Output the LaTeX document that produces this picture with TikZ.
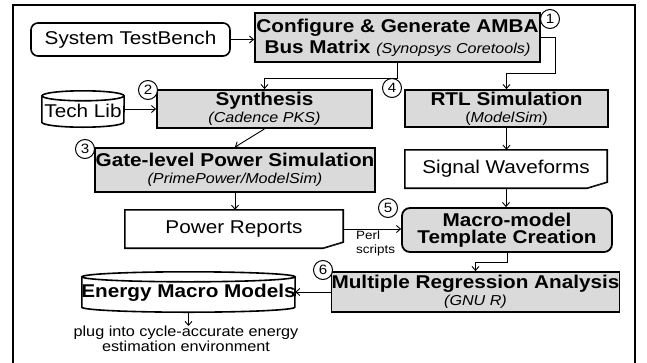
\documentclass[tikz,border=0pt]{standalone}
\usepackage{fontspec}
\setmainfont{Liberation Sans}[FakeStretch=1.12]
\usetikzlibrary{arrows.meta,calc}
\definecolor{boxgray}{RGB}{218,218,218}
\newcommand\mainf{\fontsize{18.5}{17}\selectfont}
\newcommand\itf{\fontsize{14.4}{17}\selectfont\itshape}
\newcommand\subf{\fontsize{14.4}{17}\selectfont}
\newcommand\notef{\fontsize{14.5}{13}\selectfont}
\newcommand\perlf{\fontsize{12}{14}\selectfont}
\tikzset{
  stage/.style={draw, line width=1.8pt, fill=boxgray, inner sep=0pt, align=center, font=\mainf},
  plainbox/.style={draw, line width=1.6pt, fill=white, inner sep=0pt, align=center, font=\mainf},
  docbox/.style={inner sep=0pt, align=center, font=\mainf},
  docline/.style={line width=1.6pt, line join=miter},
  cylline/.style={line width=1.6pt, fill=white},
  num/.style={circle, draw, line width=1pt, fill=white, minimum size=19pt, inner sep=0pt, font=\fontsize{13.5}{13}\selectfont},
  arr/.style={line width=0.9pt, -{Straight Barb[length=4pt,width=7pt]}},
}
\begin{document}
\begin{tikzpicture}[x=1pt,y=-1pt]
\useasboundingbox (0,0) rectangle (647,362);
% outer frame, open at the bottom
\draw[line width=2pt] (13,363) -- (13,5) -- (635,5) -- (635,363);

% stages
\node[plainbox, rounded corners=7pt, minimum width=199pt, minimum height=33pt] (tb) at (130.5,39.5) {System TestBench};
\node[stage, minimum width=285pt, minimum height=49pt] (cfg) at (397.5,37.5)
  {\textbf{Configure \& Generate AMBA}\\[3pt]\textbf{Bus Matrix} {\itf (Synopsys Coretools)}};
\node[stage, minimum width=215pt, minimum height=38pt] (syn) at (264.5,109)
  {\textbf{Synthesis}\\{\itf (Cadence PKS)}};
\node[stage, minimum width=203pt, minimum height=37pt] (rtl) at (506.5,108.5)
  {\textbf{RTL Simulation}\\{\subf(\textit{ModelSim})}};
\node[stage, minimum width=280pt, minimum height=44pt] (gate) at (235,170)
  {\textbf{Gate-level Power Simulation}\\{\itf (PrimePower/ModelSim)}};
\node[stage, rounded corners=8pt, minimum width=210pt, minimum height=44pt] (macro) at (507,230)
  {\textbf{Macro-model}\\\textbf{Template Creation}};
\node[stage, minimum width=285pt, minimum height=40pt] (mra) at (475.5,292)
  {\textbf{Multiple Regression Analysis}\\{\itf (GNU R)}};

% documents with a curled corner
\node[docbox, minimum width=218pt, minimum height=38pt] (power) at (234,229) {Power Reports};
\node[docbox, minimum width=202pt, minimum height=38pt] (sig) at (506,169) {Signal Waveforms};
\foreach \d in {power,sig}{
  \draw[docline] (\d.north west) -- (\d.north east) -- ($(\d.south east)+(0,-6)$)
    -- ($(\d.south east)+(-20,0)$) -- (\d.south west) -- cycle;
  \fill[black!75] ($(\d.south east)+(-20,0)$) -- ($(\d.south east)+(0,-6)$)
    -- ($(\d.south east)+(-9,-3)$) -- cycle;
}

% cylinders
\node[inner sep=0pt, minimum width=82pt, minimum height=36pt] (techlib) at (83,109) {};
\node[inner sep=0pt, minimum width=213pt, minimum height=40pt] (energy) at (188.5,292) {};
\draw[cylline] ($(techlib.north west)+(0,5)$) -- ($(techlib.south west)+(0,-5)$)
  arc[start angle=180, end angle=360, x radius=41pt, y radius=5pt]
  -- ($(techlib.north east)+(0,5)$);
\draw[cylline] ($(techlib.north)+(0,5)$) ellipse[x radius=41pt, y radius=5pt];
\draw[cylline] ($(energy.north west)+(0,5)$) -- ($(energy.south west)+(0,-5)$)
  arc[start angle=180, end angle=360, x radius=106.5pt, y radius=5pt]
  -- ($(energy.north east)+(0,5)$);
\draw[cylline] ($(energy.north)+(0,5)$) ellipse[x radius=106.5pt, y radius=5pt];
\node[font=\mainf] at ($(techlib.center)+(0,2)$) {Tech Lib};
\node[font=\mainf] at ($(energy.center)+(0,1)$) {\textbf{Energy Macro Models}};

% step numbers
\node[num] (n1) at (550,19) {1};
\node[num] (n2) at (148,90) {2};
\node[num] (n3) at (85,149) {3};
\node[num] (n4) at (392,88) {4};
\node[num] (n5) at (388,208) {5};
\node[num] (n6) at (323,270) {6};

% free labels
\node[font=\perlf, align=left, anchor=north west, inner sep=0pt] (perl) at (356,231) {Perl\\scripts};
\node[font=\notef, align=center, anchor=north, inner sep=0pt] (plug) at (186,326)
  {plug into cycle-accurate energy\\estimation environment};

% connectors
\draw[arr] (tb.east) -- (tb.east -| cfg.west);
\draw[arr] (cfg.south) -- ++(0,16) -| (syn.north);
\draw[arr] (cfg.east) -| ($(rtl.north)+(48.5,-16)$) -| (rtl.north);
\draw[arr] (techlib.east) -- (syn.west);
\draw[arr] (syn.south) -- (gate.north);
\draw[arr] (gate.south) -- (gate.south |- power.north);
\draw[arr] (rtl.south) -- (rtl.south |- sig.north);
\draw[arr] (sig.south) -- (sig.south |- macro.north);
\draw[arr] (power.east) -- (power.east -| macro.west);
\draw[arr] (macro.south) -- ++(0,10) -| (mra.north);
\draw[arr] (mra.west) -- (mra.west -| energy.east);
\draw[arr] (energy.south) -- (energy.south |- plug.north);
\end{tikzpicture}
\end{document}
